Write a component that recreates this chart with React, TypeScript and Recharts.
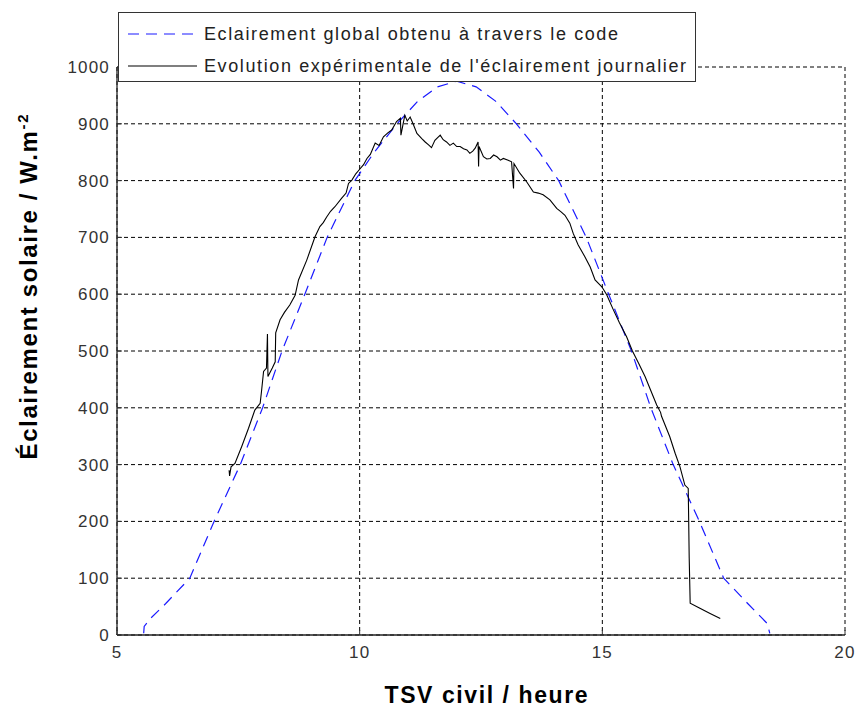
import React from 'react';
import { LineChart, Line, XAxis, YAxis, CartesianGrid, Legend } from 'recharts';

const xTicks = [5, 10, 15, 20];
const yTicks = [0, 100, 200, 300, 400, 500, 600, 700, 800, 900, 1000];

const modelHours = [5.55, 5.56, 5.7, 6.0, 6.5, 7.0, 7.54, 8.0, 8.4, 8.87, 9.33, 9.9, 10.3, 10.77, 11.2, 11.6, 12.0, 12.4, 12.8, 13.23, 13.7, 14.1, 14.67, 15.13, 15.6, 16.0, 16.46, 17.0, 17.5, 18.0, 18.4, 18.45];
const modelIrradiance = [3, 15, 30, 55, 100, 200, 300, 400, 500, 600, 700, 800, 850, 900, 940, 965, 975, 965, 940, 900, 850, 800, 700, 600, 500, 400, 300, 200, 100, 55, 20, 3];

const measuredHours = [7.31, 7.32, 7.35, 7.43, 7.57, 7.71, 7.84, 7.95, 7.98, 8.02, 8.08, 8.1, 8.11, 8.2, 8.26, 8.27, 8.36, 8.45, 8.56, 8.67, 8.74, 8.91, 9.08, 9.18, 9.25, 9.32, 9.4, 9.49, 9.63, 9.72, 9.77, 9.84, 9.92, 10.0, 10.08, 10.15, 10.22, 10.32, 10.4, 10.49, 10.58, 10.66, 10.76, 10.84, 10.85, 10.93, 10.98, 11.04, 11.1, 11.18, 11.28, 11.35, 11.42, 11.48, 11.55, 11.66, 11.72, 11.79, 11.86, 11.93, 12.0, 12.07, 12.14, 12.21, 12.27, 12.33, 12.38, 12.44, 12.45, 12.46, 12.55, 12.62, 12.69, 12.76, 12.83, 12.9, 12.96, 13.06, 13.13, 13.17, 13.18, 13.3, 13.44, 13.58, 13.68, 13.78, 13.92, 14.06, 14.15, 14.23, 14.33, 14.4, 14.5, 14.64, 14.75, 14.85, 14.99, 15.09, 15.23, 15.35, 15.5, 15.62, 15.75, 15.88, 16.0, 16.12, 16.2, 16.22, 16.39, 16.5, 16.6, 16.7, 16.77, 16.79, 16.81, 17.01, 17.22, 17.43];
const measuredIrradiance = [290, 280, 296, 302, 332, 364, 396, 408, 431, 464, 470, 530, 455, 470, 481, 532, 555, 568, 581, 598, 625, 660, 701, 719, 726, 736, 746, 754, 769, 778, 795, 801, 812, 820, 828, 839, 846, 866, 862, 877, 884, 889, 904, 910, 880, 915, 905, 912, 900, 883, 874, 868, 863, 858, 871, 880, 872, 868, 862, 866, 860, 860, 856, 854, 848, 852, 857, 868, 825, 860, 842, 838, 839, 845, 842, 836, 839, 836, 833, 786, 830, 813, 798, 780, 778, 775, 766, 751, 745, 739, 725, 707, 687, 666, 648, 625, 613, 599, 572, 550, 525, 500, 478, 455, 430, 405, 392, 385, 349, 320, 296, 264, 258, 135, 56, 47, 38, 29];

const modelData = modelHours.map((h, i) => ({ h, v: modelIrradiance[i] }));
const measuredData = measuredHours.map((h, i) => ({ h, v: measuredIrradiance[i] }));

const BLUE = '#1a1aff';

const legendItems = [
  { label: 'Eclairement global obtenu à travers le code', color: BLUE, dash: '11 7', width: 414 },
  { label: "Evolution expérimentale de l'éclairement journalier", color: '#000000', dash: undefined, width: 482 },
];

const FONT = '"Liberation Sans", Arial, Helvetica, sans-serif';

const YTick = (props: any) => {
  const { x, y, payload } = props;
  return (
    <g>
      <line x1={x + 7} x2={x + 12} y1={y} y2={y} stroke="#333" strokeWidth={1} />
      <text x={x} y={y} dy={6} textAnchor="end" fontSize={17} letterSpacing={1.2} fill="#333" fontFamily={FONT}>
        {payload.value}
      </text>
    </g>
  );
};

const XTick = (props: any) => {
  const { x, y, payload } = props;
  return (
    <g>
      <line x1={x} x2={x} y1={y - 7} y2={y - 12} stroke="#333" strokeWidth={1} />
      <text x={x} y={y} dy={16} textAnchor="middle" fontSize={17} letterSpacing={1.2} fill="#333" fontFamily={FONT}>
        {payload.value}
      </text>
    </g>
  );
};

const LegendBox = () => (
  <svg width={580} height={72} style={{ display: 'block' }}>
    <rect x={0.5} y={0.5} width={577} height={69} fill="#fff" stroke="#333" strokeWidth={1} />
    {legendItems.map((it, i) => {
      const cy = 22 + i * 32;
      return (
        <g key={i}>
          <line x1={10} x2={79} y1={cy} y2={cy} stroke={it.color} strokeWidth={1.2} strokeDasharray={it.dash} />
          <text x={86} y={cy + 6} fontSize={18} fill="#222" fontFamily={FONT} textLength={it.width} lengthAdjust="spacing">
            {it.label}
          </text>
        </g>
      );
    })}
  </svg>
);

const XTitle = () => (
  <text x={486} y={703} textAnchor="middle" fontSize={23} fontWeight="bold" fill="#000" fontFamily={FONT} textLength={203} lengthAdjust="spacing">
    TSV civil / heure
  </text>
);

const YTitle = () => (
  <text
    x={0}
    y={0}
    transform="translate(37, 287) rotate(-90)"
    textAnchor="middle"
    fontSize={24}
    fontWeight="bold"
    fill="#000"
    fontFamily={FONT}
    textLength={345}
    lengthAdjust="spacing"
  >
    Éclairement solaire / W.m
    <tspan fontSize={15} dy={-9}>-2</tspan>
  </text>
);

export default function App() {
  return (
    <div style={{ position: 'absolute', left: 0, top: 0, width: 855, height: 711, background: '#fff' }}>
      <LineChart width={855} height={711} margin={{ top: 67, right: 10, bottom: 36, left: 57 }}>
        <CartesianGrid stroke="#000" strokeDasharray="4 3" strokeWidth={1} />
        <XAxis
          type="number"
          dataKey="h"
          domain={[5, 20]}
          ticks={xTicks}
          allowDataOverflow
          height={40}
          tickSize={5}
          tickMargin={2}
          tickLine={false}
          axisLine={{ stroke: '#222', strokeWidth: 1.3 }}
          tick={<XTick />}
          label={{ content: () => <XTitle /> }}
        />
        <YAxis
          type="number"
          domain={[0, 1000]}
          ticks={yTicks}
          allowDataOverflow
          width={60}
          tickSize={5}
          tickMargin={2}
          tickLine={false}
          axisLine={{ stroke: '#222', strokeWidth: 1.3 }}
          tick={<YTick />}
          label={{ content: () => <YTitle /> }}
        />
        <Legend
          layout="vertical"
          align="center"
          verticalAlign="middle"
          content={() => <LegendBox />}
          wrapperStyle={{ position: 'absolute', left: 118, top: 12, width: 580, height: 72 }}
        />
        <Line
          data={modelData}
          dataKey="v"
          type="linear"
          stroke={BLUE}
          strokeWidth={1.2}
          strokeDasharray="11 7"
          dot={false}
          activeDot={false}
          isAnimationActive={false}
          name="Eclairement global obtenu à travers le code"
        />
        <Line
          data={measuredData}
          dataKey="v"
          type="linear"
          stroke="#000"
          strokeWidth={1.1}
          dot={false}
          activeDot={false}
          isAnimationActive={false}
          name="Evolution expérimentale de l'éclairement journalier"
        />
      </LineChart>
    </div>
  );
}
